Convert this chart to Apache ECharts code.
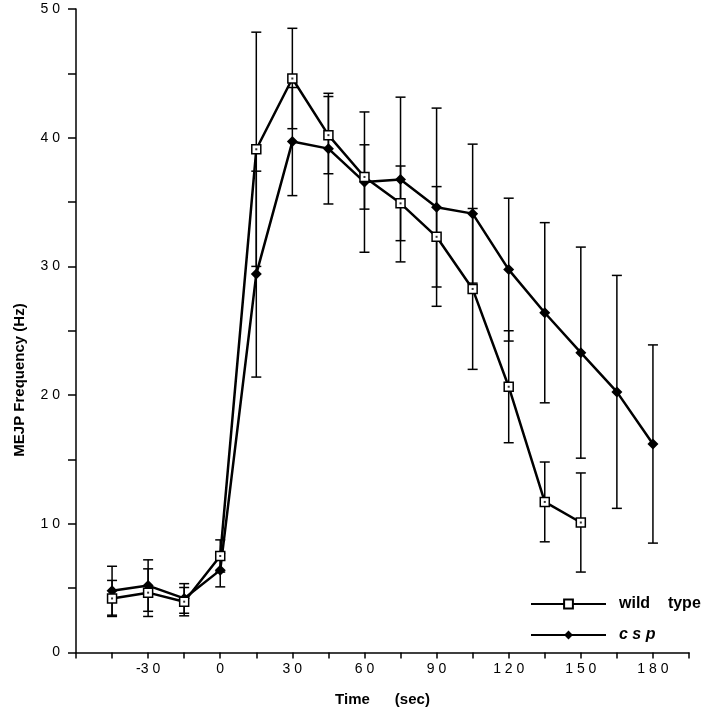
<!DOCTYPE html>
<html>
<head>
<meta charset="utf-8">
<script src="https://cdn.jsdelivr.net/npm/echarts@6/dist/echarts.min.js"></script>
<style>html,body{margin:0;padding:0;background:#fff}#c{width:704px;height:720px}</style>
</head>
<body>
<div id="c"></div>
<script>
const time = [-45, -30, -15, 0, 15, 30, 45, 60, 75, 90, 105, 120, 135, 150, 165, 180];
const wtMean = [4.2, 4.65, 3.95, 7.5, 39.1, 44.6, 40.2, 36.95, 34.9, 32.3, 28.25, 20.65, 11.7, 10.1];
const wtSem = [1.4, 1.85, 1.1, 1.25, 9.1, 3.9, 3.0, 2.5, 2.9, 3.9, 6.25, 4.35, 3.1, 3.85];
const cspMean = [4.8, 5.2, 4.2, 6.4, 29.4, 39.7, 39.15, 36.55, 36.75, 34.6, 34.1, 29.75, 26.4, 23.3, 20.25, 16.2];
const cspSem = [1.9, 2.0, 1.15, 1.3, 8.0, 4.2, 4.3, 5.45, 6.4, 7.7, 5.4, 5.55, 7.0, 8.2, 9.05, 7.7];
const xTickLabels = [-30, 0, 30, 60, 90, 120, 150, 180];
const yTickLabels = [0, 10, 20, 30, 40, 50];

const spaced = v => (v < 0 ? '-' : '') + String(Math.abs(v)).split('').join(' ');
const FONT = '"Liberation Sans", Arial, Helvetica, sans-serif';

const wtPts = wtMean.map((m, i) => [time[i], m]);
const cspPts = cspMean.map((m, i) => [time[i], m]);
const wtErr = wtMean.map((m, i) => [time[i], m - wtSem[i], m + wtSem[i]]);
const cspErr = cspMean.map((m, i) => [time[i], m - cspSem[i], m + cspSem[i]]);

function errRender(params, api) {
  const x = api.value(0);
  const lo = api.coord([x, api.value(1)]);
  const hi = api.coord([x, api.value(2)]);
  const w = 5;
  const st = { stroke: '#000', lineWidth: 1.5 };
  return {
    type: 'group',
    children: [
      { type: 'line', shape: { x1: lo[0], y1: lo[1], x2: hi[0], y2: hi[1] }, style: st },
      { type: 'line', shape: { x1: lo[0] - w, y1: lo[1], x2: lo[0] + w, y2: lo[1] }, style: st },
      { type: 'line', shape: { x1: hi[0] - w, y1: hi[1], x2: hi[0] + w, y2: hi[1] }, style: st }
    ]
  };
}

const chart = echarts.init(document.getElementById('c'), null, { renderer: 'canvas' });
chart.setOption({
  animation: false,
  backgroundColor: '#fff',
  textStyle: { fontFamily: FONT, color: '#000' },
  grid: { left: 76, right: 15, top: 9, bottom: 67.5, containLabel: false },
  xAxis: {
    type: 'value', min: -60, max: 195, interval: 15,
    name: 'Time      (sec)', nameLocation: 'middle', nameGap: 40,
    nameTextStyle: { fontFamily: FONT, fontWeight: 'bold', fontSize: 15, color: '#000' },
    axisLine: { onZero: false, lineStyle: { color: '#000', width: 1.5 } },
    axisTick: { show: true, length: 6, lineStyle: { color: '#000', width: 1.5 } },
    axisLabel: {
      margin: 10, fontSize: 14, color: '#000', fontFamily: FONT,
      formatter: v => xTickLabels.includes(v) ? spaced(v) : ''
    },
    splitLine: { show: false }
  },
  yAxis: {
    type: 'value', min: 0, max: 50, interval: 5,
    axisLine: { show: true, onZero: false, lineStyle: { color: '#000', width: 1.5 } },
    axisTick: { show: true, length: 8, lineStyle: { color: '#000', width: 1.5 } },
    axisLabel: {
      margin: 16, fontSize: 14, color: '#000', fontFamily: FONT,
      formatter: v => yTickLabels.includes(v) ? spaced(v) : ''
    },
    splitLine: { show: false }
  },
  legend: {
    orient: 'vertical', left: 525, top: 591,
    itemWidth: 75, itemHeight: 11, itemGap: 15,
    data: ['wild type', 'csp'],
    formatter: n => n === 'csp' ? '{i|c s p}' : '{b|wild    type}',
    textStyle: {
      rich: {
        b: { fontFamily: FONT, fontWeight: 'bold', fontSize: 16, color: '#000', padding: [0, 0, 0, 8] },
        i: { fontFamily: FONT, fontWeight: 'bold', fontStyle: 'italic', fontSize: 16, color: '#000', padding: [0, 0, 0, 8] }
      }
    }
  },
  graphic: [{
    type: 'text', x: 20, y: 380, rotation: Math.PI / 2,
    style: {
      text: 'MEJP Frequency (Hz)', fill: '#000',
      font: 'bold 15px ' + FONT, align: 'center', verticalAlign: 'middle'
    }
  }],
  series: [
    { type: 'custom', name: 'wtErr', renderItem: errRender, data: wtErr, encode: { x: 0, y: [1, 2] }, z: 1, silent: true },
    { type: 'custom', name: 'cspErr', renderItem: errRender, data: cspErr, encode: { x: 0, y: [1, 2] }, z: 1, silent: true },
    {
      type: 'line', name: 'csp', data: cspPts, z: 3,
      symbol: 'diamond', symbolSize: 11, showAllSymbol: true,
      lineStyle: { color: '#000', width: 2.5 },
      itemStyle: { color: '#000' }
    },
    {
      type: 'line', name: 'wild type', data: wtPts, z: 4,
      symbol: 'rect', symbolSize: 9, showAllSymbol: true,
      lineStyle: { color: '#000', width: 2.5 },
      itemStyle: { color: '#fff', borderColor: '#000', borderWidth: 1.5 }
    },
    {
      type: 'scatter', name: 'wtDot', data: wtPts, z: 5, silent: true,
      symbol: 'rect', symbolSize: 2, itemStyle: { color: '#000' }
    }
  ]
});
</script>
</body>
</html>
